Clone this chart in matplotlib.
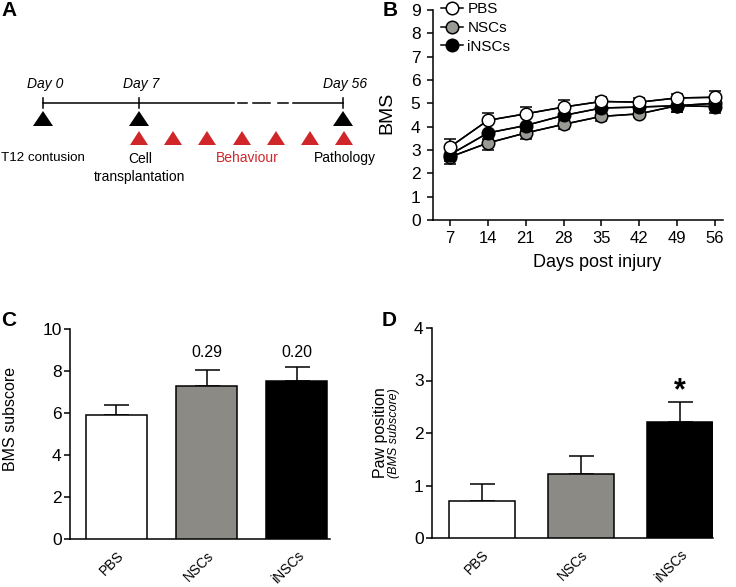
import numpy as np
import matplotlib
matplotlib.use("Agg")
import matplotlib.pyplot as plt

plt.rcParams['font.family'] = ['Liberation Sans', 'DejaVu Sans']
plt.rcParams['axes.linewidth'] = 1.1

# --- data ---
groups = ["PBS", "NSCs", "iNSCs"]
face_cols = ["white", "#8c8a84", "black"]

days = [7, 14, 21, 28, 35, 42, 49, 56]
bms_pbs = [3.13, 4.27, 4.55, 4.84, 5.08, 5.05, 5.23, 5.26]
bms_pbs_err = [0.35, 0.31, 0.31, 0.30, 0.21, 0.18, 0.17, 0.25]
bms_nsc = [2.70, 3.30, 3.73, 4.10, 4.44, 4.55, 4.90, 5.00]
bms_nsc_err = [0.31, 0.31, 0.25, 0.20, 0.18, 0.15, 0.25, 0.20]
bms_insc = [2.80, 3.73, 4.05, 4.48, 4.80, 4.84, 4.90, 4.86]
bms_insc_err = [0.25, 0.25, 0.22, 0.20, 0.18, 0.15, 0.25, 0.28]

sub_mean = [5.92, 7.27, 7.52]
sub_err = [0.48, 0.79, 0.67]
sub_p = [None, "0.29", "0.20"]

paw_mean = [0.70, 1.22, 2.21]
paw_err = [0.32, 0.34, 0.38]
paw_sig = [None, None, "*"]

# timeline schematic
tl_days = ["Day 0", "Day 7", "Day 56"]
tl_x = [43, 139, 343]
tl_events = ["T12 contusion", "Cell\ntransplantation", "Pathology"]
behav_x = [139, 173, 207, 242, 276, 310, 344]

W, H = 736, 587
fig = plt.figure(figsize=(W / 100, H / 100), dpi=100)

def px_axes(l, t, r, b):
    return fig.add_axes([l / W, 1 - b / H, (r - l) / W, (b - t) / H])

def style(ax):
    for s in ["top", "right"]:
        ax.spines[s].set_visible(False)
    ax.tick_params(direction="out", length=4, width=1.1, labelsize=12.5)

# ---------- A ----------
axA = fig.add_axes([0, 0, 370 / W, 1])
axA.set_xlim(0, 370)
axA.set_ylim(H, 0)
axA.axis("off")
ly = 103
axA.plot([43, 234], [ly, ly], color="black", lw=1.1)
for a, b in [(238, 247), (253, 270), (278, 288)]:
    axA.plot([a, b], [ly, ly], color="black", lw=1.1)
axA.plot([293, 343], [ly, ly], color="black", lw=1.1)
for x, lab in zip(tl_x, tl_days):
    axA.plot([x, x], [ly - 5, ly + 5], color="black", lw=1.1)
    axA.text(x + 2, ly - 19, lab, fontsize=10, style="italic", ha="center", va="center")
    axA.fill([x - 10, x + 10, x], [126, 126, 111], color="black", lw=0)
for x in behav_x:
    axA.fill([x - 9, x + 9, x], [145, 145, 131], color="#d0262a", lw=0)
axA.text(1, 158, tl_events[0], fontsize=9.6, ha="left", va="center")
axA.text(140, 168, tl_events[1], fontsize=10, ha="center", va="center", linespacing=1.3)
axA.text(345, 158, tl_events[2], fontsize=10, ha="center", va="center")
axA.text(247, 158, "Behaviour", fontsize=10, ha="center", va="center", color="#d0262a")

# ---------- B ----------
axB = px_axes(433, 10, 723, 220)
style(axB)
axB.tick_params(pad=5)
series = [(bms_nsc, bms_nsc_err, "#9a9a94", "NSCs", -1, 2),
          (bms_insc, bms_insc_err, "black", "iNSCs", -1, 3),
          (bms_pbs, bms_pbs_err, "white", "PBS", 1, 4)]
handles = {}
for m, e, c, lab, sgn, z in series:
    m = np.array(m); e = np.array(e)
    if sgn > 0:
        yerr = [np.zeros_like(e), e]
    else:
        yerr = [e, np.zeros_like(e)]
    axB.errorbar(days, m, yerr=yerr, color="black", lw=1.1, capsize=4.5,
                 capthick=1.1, elinewidth=1.1, zorder=z)
    h, = axB.plot(days, m, "-o", color="black", mfc=c, mec="black", mew=1.1,
                  ms=9, lw=1.1, zorder=z + 0.5, label=lab)
    handles[lab] = h
axB.set_xlim(3.86, 57.5)
axB.set_ylim(0, 9)
axB.set_xticks(days)
axB.set_yticks(range(10))
axB.tick_params(axis="x", labelsize=12, pad=4)
axB.set_ylabel("BMS", fontsize=14)
axB.yaxis.set_label_coords(-0.13, 0.51)
axB.set_xlabel("Days post injury", fontsize=13)
axB.xaxis.set_label_coords(0.566, -0.16)
axB.legend([handles[g] for g in groups], groups, loc="upper left",
           bbox_to_anchor=(0.005, 1.065), frameon=False, fontsize=11,
           handlelength=1.45, handletextpad=0.3, labelspacing=0.3, borderaxespad=0)

# ---------- C ----------
axC = px_axes(70, 329, 330, 539)
style(axC)
axC.tick_params(axis="y", pad=2)
xs = np.arange(len(groups))
axC.bar(xs, sub_mean, width=0.67, color=face_cols, edgecolor="black", lw=1.1, zorder=3)
axC.errorbar(xs, sub_mean, yerr=[np.zeros(3), sub_err], fmt="none", ecolor="black",
             capsize=9, capthick=1.1, elinewidth=1.1, zorder=2)
for x, m, e, p in zip(xs, sub_mean, sub_err, sub_p):
    if p:
        axC.text(x, 8.9, p, ha="center", va="center", fontsize=11.5)
axC.set_xlim(-0.515, 2.37)
axC.set_ylim(0, 10)
axC.set_yticks(range(0, 11, 2))
axC.set_xticks(xs)
axC.set_xticklabels(groups, rotation=45, ha="right", rotation_mode="anchor", fontsize=10)
axC.tick_params(axis="x", length=0, pad=7)
axC.set_ylabel("BMS subscore", fontsize=11.5)
axC.yaxis.set_label_coords(-0.2, 0.57)

# ---------- D ----------
axD = px_axes(432, 328, 713, 538)
style(axD)
axD.tick_params(axis="y", pad=2)
axD.bar(xs, paw_mean, width=0.67, color=face_cols, edgecolor="black", lw=1.1, zorder=3)
axD.errorbar(xs, paw_mean, yerr=[np.zeros(3), paw_err], fmt="none", ecolor="black",
             capsize=9, capthick=1.1, elinewidth=1.1, zorder=2)
for x, m, e, s in zip(xs, paw_mean, paw_err, paw_sig):
    if s:
        axD.text(x, m + e + 0.2, s, ha="center", va="center", fontsize=22, fontweight="bold")
axD.set_xlim(-0.505, 2.333)
axD.set_ylim(0, 4)
axD.set_yticks(range(5))
axD.set_xticks(xs)
axD.set_xticklabels(groups, rotation=45, ha="right", rotation_mode="anchor", fontsize=10)
axD.tick_params(axis="x", length=0, pad=7)
axD.text(-0.185, 0.5, "Paw position", transform=axD.transAxes, rotation=90,
         ha="center", va="center", fontsize=11.5)
axD.text(-0.135, 0.5, "(BMS subscore)", transform=axD.transAxes, rotation=90,
         ha="center", va="center", fontsize=9, style="italic")

# panel letters
for lab, x, y in [("A", 9, 11), ("B", 390, 11), ("C", 9, 321), ("D", 389, 321)]:
    fig.text(x / W, 1 - y / H, lab, fontsize=15, fontweight="bold", ha="center", va="center")

fig.savefig("out.png", dpi=100)
